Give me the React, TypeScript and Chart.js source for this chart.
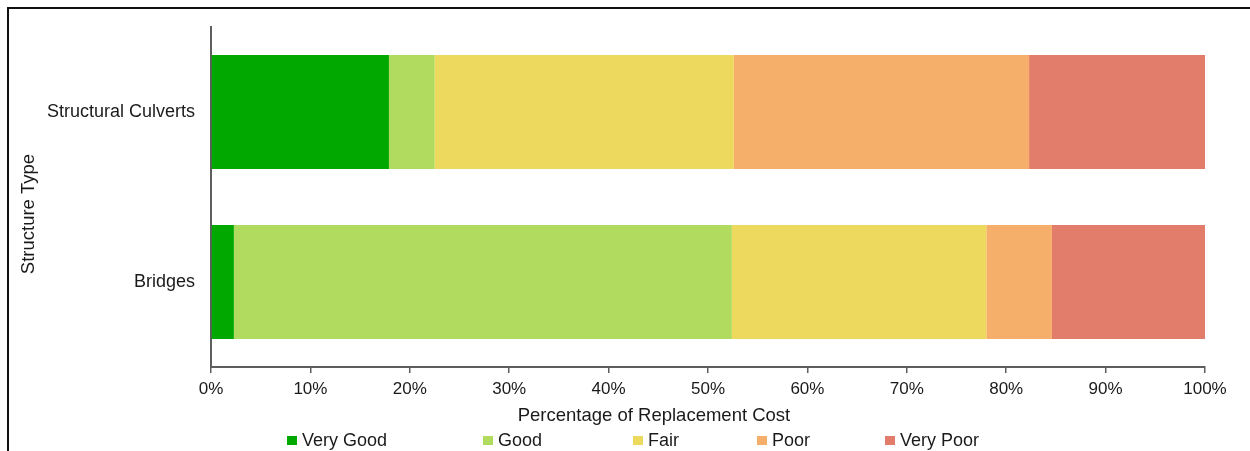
import React, { useEffect, useRef } from "react";
import { Chart, registerables } from "chart.js";

Chart.register(...registerables);

// Share of replacement cost by condition rating, per structure type (%)
const structureTypes = ["Structural Culverts", "Bridges"];
const conditionLabels = ["Very Good", "Good", "Fair", "Poor", "Very Poor"];
const veryGood = [17.9, 2.3];
const good = [4.6, 50.1];
const fair = [30.1, 25.6];
const poor = [29.7, 6.6];
const veryPoor = [17.7, 15.4];
const conditionColors = ["#00A800", "#B0DB5E", "#ECD95E", "#F6AE6B", "#E27D6B"];

const xAxisTitle = "Percentage of Replacement Cost";
const yAxisTitle = "Structure Type";

const FONT = "'Liberation Sans', Arial, sans-serif";
const TEXT = "#1a1a1a";
const AXIS = "#5e5e5e";

// Legend entry x positions (swatch left edges)
const LEGEND_X = [287, 483, 633, 757, 885];

const titlesAndLegend = {
  id: "titlesAndLegend",
  afterDraw(chart: any) {
    const ctx = chart.ctx;
    ctx.save();
    ctx.fillStyle = TEXT;
    ctx.font = `18.5px ${FONT}`;
    ctx.textAlign = "center";
    ctx.textBaseline = "alphabetic";
    ctx.fillText(xAxisTitle, 654, 421);

    ctx.save();
    ctx.translate(34, 214);
    ctx.rotate(-Math.PI / 2);
    ctx.fillText(yAxisTitle, 0, 0);
    ctx.restore();

    ctx.font = `18px ${FONT}`;
    ctx.textAlign = "left";
    chart.data.datasets.forEach((ds: any, i: number) => {
      const x = LEGEND_X[i];
      ctx.fillStyle = ds.backgroundColor;
      ctx.fillRect(x, 436, 10, 9);
      ctx.fillStyle = TEXT;
      ctx.fillText(ds.label, x + 15, 446);
    });
    ctx.restore();
  },
};

export default function App() {
  const canvasRef = useRef<HTMLCanvasElement | null>(null);

  useEffect(() => {
    const canvas = canvasRef.current;
    if (!canvas) return;
    const series = [veryGood, good, fair, poor, veryPoor];
    const chart = new Chart(canvas, {
      type: "bar",
      data: {
        labels: structureTypes,
        datasets: series.map((values, i) => ({
          label: conditionLabels[i],
          data: values,
          backgroundColor: conditionColors[i],
          borderWidth: 0,
          barPercentage: 0.67,
          categoryPercentage: 1,
        })),
      },
      options: {
        indexAxis: "y",
        responsive: false,
        animation: false,
        layout: { padding: { top: 27, right: 45, bottom: 0, left: 0 } },
        plugins: {
          legend: { display: false },
          tooltip: { enabled: false },
        },
        scales: {
          x: {
            stacked: true,
            min: 0,
            max: 100,
            ticks: {
              stepSize: 10,
              padding: 6,
              color: TEXT,
              font: { family: FONT, size: 17 },
              callback: (v: any) => `${v}%`,
            },
            grid: {
              drawOnChartArea: false,
              drawTicks: true,
              tickLength: 6,
              color: AXIS,
              lineWidth: 1.5,
            },
            border: { display: true, color: AXIS, width: 2 },
            afterFit: (scale: any) => {
              scale.height = 84;
            },
          },
          y: {
            stacked: true,
            ticks: {
              padding: 8,
              color: TEXT,
              font: { family: FONT, size: 18 },
            },
            grid: { display: false },
            border: { display: true, color: AXIS, width: 2 },
            afterFit: (scale: any) => {
              scale.width = 211;
            },
          },
        },
      },
      plugins: [titlesAndLegend],
    });
    return () => chart.destroy();
  }, []);

  return (
    <>
      <canvas
        ref={canvasRef}
        width={1250}
        height={451}
        style={{ position: "fixed", left: 0, top: 0, width: 1250, height: 451 }}
      />
      <div
        style={{
          position: "fixed",
          left: 7,
          top: 7,
          right: 0,
          bottom: 0,
          borderLeft: "2px solid #111",
          borderTop: "2px solid #111",
          pointerEvents: "none",
        }}
      />
    </>
  );
}
